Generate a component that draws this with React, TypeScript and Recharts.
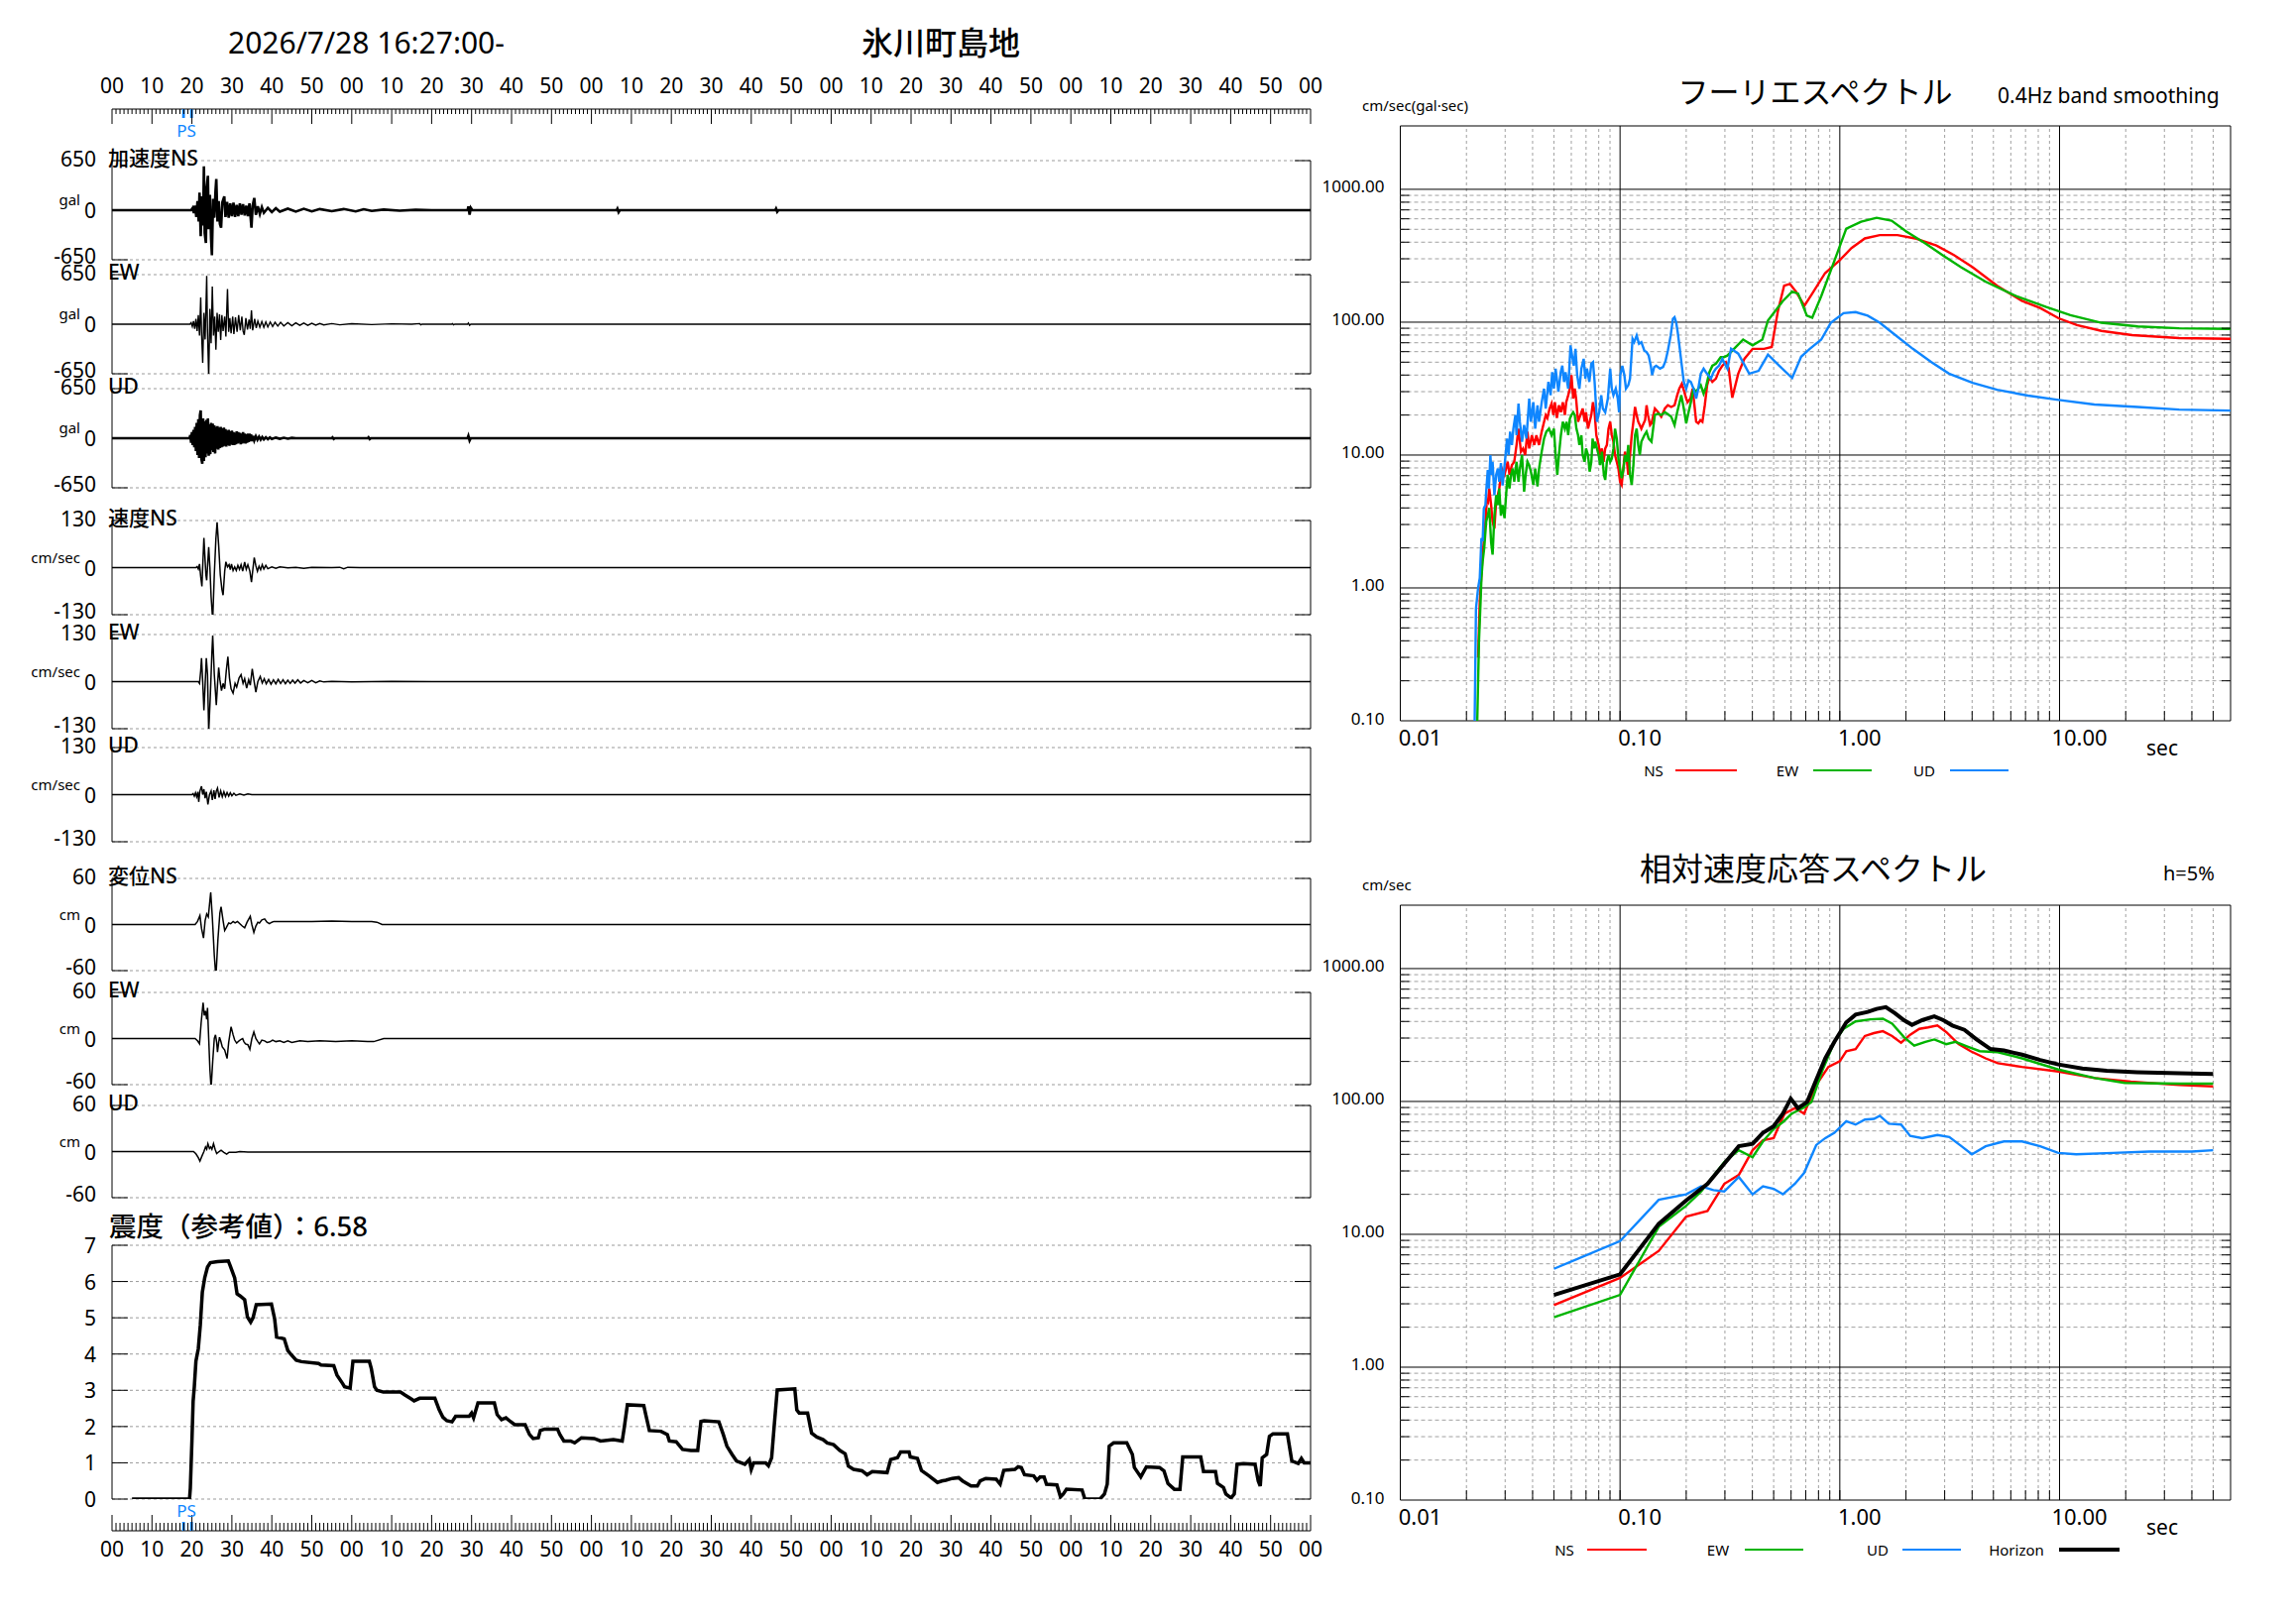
import React from 'react';
import { LineChart, Line, XAxis, YAxis, ReferenceLine, ReferenceArea } from 'recharts';

const FONT = "'Noto Sans', 'Noto Sans CJK JP', sans-serif";
const RED = '#ff0000';
const GREEN = '#00b400';
const BLUE = '#0f86ff';

type Pair = [number, number];

// ---- waveforms: [sec, value] ----
const accNS: Pair[] = [
  [0, 0], [19.8, 0], [20.2, 30], [20.5, -40], [20.8, 60], [21.1, -90], [21.4, 120], [21.7, -150], [21.9, 230],
  [22.2, -340], [22.5, 180], [22.8, -200], [23.0, 575], [23.2, -300], [23.5, -430], [23.7, 300], [24.0, 450],
  [24.2, -250], [24.5, 200], [24.8, -380], [25.0, -590], [25.3, 150], [25.6, -100], [25.9, 250], [26.1, 410],
  [26.4, -150], [26.7, 120], [27.0, -180], [27.3, -230], [27.6, 100], [28.1, 180], [28.4, -90], [28.8, 110],
  [29.2, -100], [29.6, 90], [30.0, -80], [30.4, 100], [30.8, -90], [31.2, 70], [31.6, -80], [32.0, 90],
  [32.4, -60], [32.8, 80], [33.2, -70], [33.6, 60], [34.0, -80], [34.4, 90], [34.9, -230], [35.2, 60],
  [35.6, 160], [36.0, -60], [36.5, 50], [37.0, -50], [37.5, 40], [38, -35], [39, 30], [40, -25], [41, 25],
  [42, -20], [44, 20], [46, -18], [48, 18], [50, -15], [52, 15], [55, -12], [58, 15], [61, -15], [63, 12],
  [65, -10], [68, 8], [72, -6], [76, 5], [80, 0], [89, 0], [89.2, 50], [89.5, -60], [89.8, 30], [90.2, 0],
  [126.3, 0], [126.5, 20], [126.8, -25], [127.1, 0], [166, 0], [166.2, 20], [166.5, -20], [166.8, 0], [300, 0],
];
const accEW: Pair[] = [
  [0, 0], [19.5, 0], [19.8, 20], [20.1, -30], [20.4, 40], [20.7, -60], [21.0, 70], [21.3, -90], [21.6, 120],
  [21.9, -150], [22.2, 350], [22.4, -100], [22.7, -507], [23.0, 150], [23.3, -200], [23.5, 200], [23.7, 632],
  [23.9, -100], [24.2, -700], [24.5, 200], [24.8, -250], [25.1, 494], [25.4, -150], [25.7, 100], [26.0, -335],
  [26.3, 150], [26.6, -100], [26.9, 130], [27.2, -206], [27.5, 120], [27.8, -90], [28.2, 100], [28.5, -163],
  [28.9, 460], [29.2, -100], [29.5, 80], [29.8, -120], [30.2, 100], [30.5, -130], [30.9, 90], [31.3, -100],
  [31.7, 120], [32.1, -80], [32.5, 100], [32.8, -90], [33.1, -140], [33.5, 80], [33.9, -70], [34.3, 60],
  [34.6, -60], [34.9, 180], [35.2, -80], [35.7, 70], [36.1, -50], [36.5, 40], [37, -40], [37.5, 35], [38, -40],
  [38.5, 30], [39, -35], [39.6, 30], [40.2, -30], [40.8, 25], [41.5, -25], [42.2, 25], [43, -22], [44, 20],
  [45, -20], [46, 18], [47, -15], [48, 15], [49, -15], [50, 12], [51, -12], [52, 10], [53, -10], [55, 8],
  [57, -8], [60, 6], [65, -5], [70, 5], [75, 0], [77, 8], [77.3, -8], [77.6, 0], [85, 0], [85.2, 8],
  [85.5, -8], [85.8, 0], [89, 0], [89.2, 15], [89.5, -15], [89.8, 0], [300, 0],
];
const accUD: Pair[] = [
  [0, 0], [19.4, 0], [19.6, 40], [19.8, -60], [20.0, 80], [20.2, -90], [20.4, 110], [20.6, -120], [20.8, 150],
  [21.0, -170], [21.2, 200], [21.4, -220], [21.6, 250], [21.8, -260], [22.0, 300], [22.2, 365], [22.4, -280],
  [22.6, -335], [22.8, 260], [23.0, -300], [23.2, 220], [23.4, -250], [23.6, 240], [23.8, -200], [24.0, 260],
  [24.2, -230], [24.4, 180], [24.6, -210], [24.8, 200], [25.0, -160], [25.2, 190], [25.4, -180], [25.6, 170],
  [25.8, -200], [26.0, 150], [26.2, -140], [26.4, 160], [26.6, -150], [26.8, 140], [27.0, -130], [27.2, 150],
  [27.4, -120], [27.6, 130], [27.8, -110], [28.0, 140], [28.2, -100], [28.4, 120], [28.6, -110], [28.8, 100],
  [29.0, -90], [29.2, 110], [29.4, -100], [29.6, 90], [29.8, -80], [30.0, 100], [30.2, -90], [30.4, 80],
  [30.6, -90], [30.8, 70], [31.0, -80], [31.2, 90], [31.4, -70], [31.6, 80], [31.8, -60], [32.0, 70],
  [32.2, -80], [32.4, 60], [32.6, -70], [32.8, 80], [33.0, -60], [33.2, 60], [33.4, -70], [33.6, 50],
  [33.8, -60], [34.0, 60], [34.2, -50], [34.4, 60], [34.6, -40], [34.8, 50], [35.0, -40], [35.3, 30],
  [35.6, -30], [36.0, 25], [36.4, -20], [36.8, 20], [37.2, -18], [37.6, 15], [38, -15], [38.5, 12], [39, -12],
  [39.5, 10], [40, -10], [41, 8], [42, -8], [43, 6], [44, -6], [45, 5], [46, 0], [55, 0], [55.2, 10],
  [55.5, -10], [55.8, 0], [64, 0], [64.2, 12], [64.5, -12], [64.8, 0], [89, 0], [89.2, 30], [89.5, -30],
  [89.8, 0], [300, 0],
];
const velNS: Pair[] = [
  [0, 0], [21.0, 0], [21.3, 3], [21.6, -4], [21.9, 10], [22.2, -25], [22.5, -52], [22.8, 30], [23.0, 82],
  [23.3, 20], [23.5, -20], [23.7, -35], [24.0, 20], [24.2, 57], [24.5, 0], [24.8, -80], [25.2, -145],
  [25.6, -20], [26.0, 80], [26.3, 125], [26.7, 60], [27.1, -20], [27.5, -60], [27.8, -76], [28.2, -10],
  [28.5, 16], [28.9, 2], [29.3, 8], [29.6, -6], [29.9, 10], [30.3, -8], [30.7, 2], [31.1, -8], [31.5, 6],
  [31.9, -5], [32.3, 8], [32.7, -10], [33.2, 15], [33.6, -5], [34.0, 8], [34.5, -10], [34.9, -40], [35.3, 0],
  [35.6, 28], [36.0, 5], [36.4, -10], [36.8, 4], [37.2, -6], [37.6, 8], [38.0, -4], [38.5, 6], [39, -3],
  [40, 2], [41, -2], [42, 2], [44, -1], [46, 1], [48, -2], [50, 1], [55, 0], [57, 1], [58, -3], [59, 1],
  [62, 0], [300, 0],
];
const velEW: Pair[] = [
  [0, 0], [21.6, 0], [21.9, -5], [22.2, 30], [22.4, 65], [22.7, 0], [23.0, -79], [23.3, -10], [23.6, 65],
  [23.9, 20], [24.2, -138], [24.6, -40], [25.0, 80], [25.2, 127], [25.6, 20], [26.1, -65], [26.4, -10],
  [26.7, 39], [27.0, 5], [27.4, -25], [27.8, -5], [28.2, -20], [28.6, 30], [29.0, 69], [29.4, 10], [29.8, -20],
  [30.3, -32], [30.8, -5], [31.2, -15], [31.8, 10], [32.3, 19], [32.8, -5], [33.2, 8], [33.7, -18], [34.2, 5],
  [34.6, -10], [35.1, 35], [35.5, 5], [36.0, -29], [36.5, 0], [37.1, 14], [37.6, -4], [38.1, 8], [38.6, -6],
  [39.2, 6], [39.8, -7], [40.4, 5], [41, -6], [41.6, 6], [42.2, -5], [42.8, 5], [43.4, -6], [44, 4],
  [44.6, -5], [45.2, 4], [45.8, -4], [46.5, 5], [47.2, -4], [48, 3], [49, -3], [50, 3], [51, -3], [52, 2],
  [53, -1], [55, 1], [60, -1], [70, 1], [80, 0], [300, 0],
];
const velUD: Pair[] = [
  [0, 0], [20.0, 0], [20.3, 3], [20.6, -4], [20.9, 5], [21.2, -6], [21.5, 8], [21.7, -20], [22.0, 10],
  [22.4, 23], [22.7, 0], [23.0, 15], [23.3, -10], [23.6, 8], [24.0, -27], [24.4, 0], [24.8, 10], [25.1, -15],
  [25.5, 12], [25.8, -12], [26.1, 10], [26.4, 18], [26.8, -8], [27.2, 10], [27.6, -6], [28, 8], [28.4, -5],
  [28.8, 6], [29.2, -4], [29.6, 5], [30.0, -3], [30.5, 4], [31, -2], [32, 2], [33, -1], [34, 2], [35, 0],
  [300, 0],
];
const disNS: Pair[] = [
  [0, 0], [20.8, 0], [21.4, 4], [22.0, 11.6], [22.4, -5], [22.9, -17.6], [23.3, 5], [23.7, 13.7], [24.1, 10],
  [24.7, 42], [25.1, 10], [25.6, -40], [26.0, -69], [26.5, -20], [27.0, 15], [27.3, 23], [27.8, 5],
  [28.2, -7.7], [28.6, -4], [29.2, 2], [29.7, 1], [30.3, 4], [30.8, 2], [31.4, 4], [32, 1], [32.6, -2],
  [33.2, -4.3], [33.8, 3], [34.6, 10.7], [35.0, 0], [35.5, -10.3], [36.0, -2], [36.5, 3], [36.9, 2], [37.5, 6],
  [38.2, 7.3], [38.8, 3], [39.4, 1], [40, 3], [40.5, 4], [45, 4], [50, 4], [55, 4.5], [60, 4], [65, 4],
  [66.3, 3], [67.6, 0], [300, 0],
];
const disEW: Pair[] = [
  [0, 0], [20.8, 0], [21.4, -3], [21.9, -6.9], [22.3, 20], [22.8, 46.7], [23.1, 30], [23.4, 36], [23.7, 25],
  [23.9, 40], [24.2, 0], [24.5, -40], [24.8, -64.7], [25.2, -30], [25.6, 0], [25.9, 4.7], [26.2, -5],
  [26.4, -17.6], [26.7, -5], [26.9, 1.7], [27.2, -3], [27.6, -11], [28.2, -15], [28.8, -26], [29.2, -5],
  [29.8, 15.4], [30.3, 5], [30.7, -2], [31.2, -6], [31.8, -3], [32.3, -1], [32.7, 0], [33.0, -4], [33.4, -6.9],
  [34.0, -8], [34.5, -14], [35.0, 0], [35.5, 8.6], [36.0, 0], [36.5, -4], [36.9, -6.9], [37.5, -2], [38.2, -3],
  [38.8, -5], [39.5, -4.3], [40.2, -2], [41, -4], [42, -3], [43, -5], [44, -3], [45, -5], [47, -3], [49, -4],
  [52, -3], [56, -4], [60, -3], [64, -4], [65.5, -4], [68, 0], [300, 0],
];
const disUD: Pair[] = [
  [0, 0], [20.4, 0], [21.0, -3], [21.6, -8], [22.0, -12.4], [22.5, -6], [23.0, 0], [23.4, 6], [23.7, 3],
  [24.0, 10.3], [24.4, 4], [24.7, 6], [25.0, 3], [25.4, 10.3], [25.8, 3], [26.2, -2.6], [26.8, 0], [27.3, 1.7],
  [28.0, -1], [28.7, -3.4], [29.3, -1], [30, -0.9], [31, -1], [32, 0], [34, -0.5], [300, 0],
];

// ---- seismic intensity (参考値) over time ----
const intensity: Pair[] = [
  [5, 0], [19.4, 0], [19.6, 0.3], [20.0, 1.6], [20.3, 2.7], [20.6, 3.1], [21.0, 3.8], [21.6, 4.15], [22.1, 4.8],
  [22.6, 5.7], [23.2, 6.1], [23.9, 6.4], [24.6, 6.52], [26.4, 6.55], [29.1, 6.57], [29.6, 6.43], [30.7, 6.1],
  [31.3, 5.66], [32.1, 5.6], [33.2, 5.5], [33.9, 5.02], [34.7, 4.88], [35.3, 5.0], [36.1, 5.36], [39.9, 5.38],
  [40.7, 4.97], [41.2, 4.47], [43.1, 4.42], [44.0, 4.1], [44.7, 4.0], [46.1, 3.83], [47.4, 3.79], [51.7, 3.74],
  [52.3, 3.7], [55.5, 3.68], [56.3, 3.42], [57.7, 3.19], [58.2, 3.1], [59.6, 3.06], [60.3, 3.8], [64.4, 3.8],
  [64.9, 3.6], [65.7, 3.1], [66.3, 3.0], [67.9, 2.95], [72.2, 2.95], [73.3, 2.87], [74.9, 2.76], [75.6, 2.71],
  [77.0, 2.78], [80.8, 2.78], [81.9, 2.46], [82.8, 2.26], [83.8, 2.16], [85.1, 2.13], [86.0, 2.28], [89.4, 2.28],
  [90.0, 2.37], [90.5, 2.24], [91.6, 2.65], [95.7, 2.65], [96.4, 2.33], [97.5, 2.19], [98.6, 2.24], [99.7, 2.14],
  [100.8, 2.05], [103.4, 2.05], [104.5, 1.78], [105.4, 1.67], [106.7, 1.69], [107.2, 1.89], [108.3, 1.93],
  [111.5, 1.93], [112.1, 1.78], [113.1, 1.6], [114.8, 1.6], [115.8, 1.55], [117.5, 1.69], [120.7, 1.67],
  [122.3, 1.6], [125.5, 1.64], [127.7, 1.6], [128.2, 1.96], [129.0, 2.6], [133.1, 2.58], [133.6, 2.33],
  [134.5, 1.89], [137.4, 1.87], [139.0, 1.78], [139.5, 1.6], [141.2, 1.58], [142.8, 1.37], [144.9, 1.34],
  [146.6, 1.34], [147.4, 2.14], [148.2, 2.16], [151.9, 2.13], [153.0, 1.78], [153.9, 1.46], [155.2, 1.23],
  [156.3, 1.05], [158.4, 0.96], [159.5, 1.09], [160.0, 0.82], [160.6, 1.0], [163.6, 1.0], [164.3, 0.92],
  [165.1, 1.14], [165.7, 1.96], [166.5, 3.01], [170.9, 3.04], [171.4, 2.46], [172.0, 2.37], [174.1, 2.37],
  [175.1, 1.82], [176.4, 1.71], [178.0, 1.64], [179.0, 1.55], [180.6, 1.5], [182.2, 1.34], [183.5, 1.25],
  [184.3, 0.91], [185.6, 0.82], [187.7, 0.78], [189.0, 0.67], [190.3, 0.76], [194.0, 0.73], [194.9, 1.09],
  [196.6, 1.14], [197.4, 1.3], [199.5, 1.3], [199.8, 1.16], [201.6, 1.12], [202.6, 0.79], [204.5, 0.64],
  [206.6, 0.46], [207.7, 0.5], [208.7, 0.52], [210.3, 0.57], [211.9, 0.59], [212.9, 0.5], [215.0, 0.36],
  [216.6, 0.36], [217.3, 0.5], [218.7, 0.57], [221.3, 0.55], [222.3, 0.41], [223.2, 0.79], [226.0, 0.82],
  [226.8, 0.89], [227.6, 0.87], [228.4, 0.67], [230.7, 0.64], [231.5, 0.52], [232.3, 0.61], [233.3, 0.61],
  [233.9, 0.41], [236.5, 0.39], [237.4, 0.06], [238.1, 0.14], [238.9, 0.27], [242.8, 0.25], [243.5, 0],
  [247.3, 0], [248.4, 0.14], [249.1, 0.41], [249.6, 1.46], [250.7, 1.55], [254.0, 1.55], [255.4, 1.23],
  [255.9, 0.87], [257.5, 0.61], [258.9, 0.89], [262.2, 0.87], [263.3, 0.78], [264.3, 0.43], [265.9, 0.27],
  [267.3, 0.27], [268.0, 1.16], [272.5, 1.16], [273.2, 0.76], [276.2, 0.76], [276.7, 0.43], [278.2, 0.32],
  [278.8, 0.14], [280.1, 0.03], [280.9, 0.14], [281.6, 0.96], [283.2, 0.98], [286.1, 0.96], [286.9, 0.5],
  [287.4, 0.36], [287.9, 1.14], [289.0, 1.23], [289.7, 1.73], [290.6, 1.8], [294.2, 1.8], [295.3, 1.05],
  [296.9, 0.98], [297.7, 1.12], [298.4, 1.0], [300, 1.0],
];
const psTimes = [17.9, 19.9];

// ---- Fourier spectra: [period sec, cm/sec] ----
const fourierNS: Pair[] = [
  [0.0226, 0.3], [0.023, 0.8], [0.0234, 1.26], [0.0237, 1.78], [0.0244, 3.16], [0.0248, 4.7], [0.0251, 4.5],
  [0.0254, 5.6], [0.0259, 4.2], [0.0263, 3.16], [0.0268, 2.8], [0.0273, 4.5], [0.0278, 5.0], [0.0282, 5.6],
  [0.029, 7.9], [0.0298, 7.1], [0.0308, 8.9], [0.0314, 7.1], [0.0322, 8.4], [0.033, 8.9], [0.0338, 11.9],
  [0.0345, 15.8], [0.0354, 10.6], [0.0362, 11.2], [0.037, 10], [0.0379, 15], [0.0386, 11.2], [0.0397, 14.1],
  [0.0407, 11.9], [0.0416, 14.1], [0.0428, 11.9], [0.044, 15], [0.0451, 17.8], [0.0459, 20], [0.0467, 19],
  [0.0478, 22.4], [0.0488, 24.4], [0.0497, 20], [0.0505, 25], [0.0516, 19], [0.0527, 23.7], [0.0538, 21],
  [0.0549, 25], [0.0561, 20], [0.0569, 25], [0.0581, 28.2], [0.0591, 31.6], [0.0601, 40], [0.0612, 26.6],
  [0.0622, 31.6], [0.0631, 26.6], [0.0644, 17.8], [0.066, 20], [0.0676, 22.4], [0.069, 17.8], [0.07, 21],
  [0.0715, 15.8], [0.0727, 17.8], [0.074, 20], [0.0753, 25], [0.0766, 21], [0.078, 14.1], [0.0799, 11.9],
  [0.0812, 10], [0.0827, 11.2], [0.0841, 8.9], [0.0856, 11.2], [0.0871, 11.9], [0.0886, 15.8], [0.0902, 17.8],
  [0.0917, 14.1], [0.0933, 12.6], [0.0949, 10], [0.0966, 8.9], [0.0983, 7.9], [0.1, 6.3], [0.1017, 5.96],
  [0.1035, 7.9], [0.1053, 10.6], [0.1072, 9.4], [0.109, 7.1], [0.111, 10], [0.113, 14.1], [0.115, 17.8],
  [0.117, 23], [0.119, 20], [0.121, 17.8], [0.123, 16.8], [0.125, 15.8], [0.127, 16.8], [0.13, 18.3],
  [0.132, 23.7], [0.134, 20], [0.137, 16.8], [0.139, 17.3], [0.144, 22.4], [0.149, 21], [0.154, 19.4],
  [0.16, 22.4], [0.165, 23.7], [0.171, 23], [0.177, 23.7], [0.182, 28.2], [0.186, 31.6], [0.191, 34.4],
  [0.196, 29.9], [0.2, 26.6], [0.203, 25], [0.209, 26.6], [0.214, 31.6], [0.218, 23.7], [0.222, 17.8],
  [0.227, 17.3], [0.232, 18.3], [0.237, 17.8], [0.243, 23.7], [0.249, 33.5], [0.255, 38.6], [0.263, 35.5],
  [0.273, 37.6], [0.282, 43], [0.292, 47], [0.303, 50], [0.312, 45], [0.324, 27], [0.345, 41], [0.368, 53],
  [0.401, 63], [0.452, 63], [0.49, 65], [0.523, 122], [0.558, 188], [0.593, 194], [0.632, 170], [0.69, 133],
  [0.749, 164], [0.857, 234], [1.0, 293], [1.13, 361], [1.3, 427], [1.52, 452], [1.83, 452], [2.2, 427],
  [2.75, 377], [3.32, 319], [4.02, 259], [5.2, 188], [6.73, 145], [8.16, 128], [9.9, 107], [12, 95],
  [15.5, 86], [21.4, 80], [35, 76], [60, 75],
];
const fourierEW: Pair[] = [
  [0.0224, 0.1], [0.0228, 0.39], [0.0232, 0.8], [0.0234, 1.19], [0.0237, 1.58], [0.0241, 2.0], [0.0246, 3.16],
  [0.025, 3.5], [0.0254, 4.0], [0.0259, 2.2], [0.0263, 1.78], [0.0268, 3.5], [0.0273, 5.0], [0.0278, 4.2],
  [0.0282, 5.6], [0.0287, 3.5], [0.0292, 4.2], [0.0298, 3.35], [0.0303, 5.0], [0.0308, 7.1], [0.0314, 5.6],
  [0.0319, 7.1], [0.0325, 7.9], [0.033, 6.3], [0.0338, 8.9], [0.0345, 6.3], [0.035, 7.9], [0.0358, 10],
  [0.0366, 5.3], [0.0372, 7.1], [0.0379, 8.9], [0.0386, 8.4], [0.0393, 7.5], [0.0403, 5.96], [0.0411, 7.9],
  [0.0421, 5.8], [0.0428, 7.9], [0.044, 10.6], [0.0451, 13.3], [0.0462, 15], [0.0475, 15.8], [0.0488, 14.1],
  [0.05, 15.8], [0.0509, 10], [0.0518, 7.1], [0.0527, 10], [0.0538, 14.1], [0.0549, 17.8], [0.0561, 15.8],
  [0.0571, 17.8], [0.0581, 14.1], [0.0591, 18.8], [0.0601, 20], [0.0612, 21], [0.0622, 20], [0.0633, 15.8],
  [0.0644, 14.1], [0.0653, 11.9], [0.0667, 14.1], [0.0676, 10], [0.069, 8.9], [0.07, 11.2], [0.0715, 10],
  [0.0727, 7.5], [0.074, 8.9], [0.075, 13.3], [0.0761, 11.2], [0.0771, 12.6], [0.0785, 11.2], [0.0799, 10],
  [0.0812, 8.4], [0.0827, 10.6], [0.0844, 7.1], [0.0856, 6.5], [0.0871, 8.9], [0.0886, 10], [0.0902, 8.9],
  [0.0917, 9.4], [0.0933, 11.2], [0.0949, 15.8], [0.0966, 13.3], [0.0983, 9.4], [0.1, 7.9], [0.1017, 6.7],
  [0.1035, 7.7], [0.1053, 10], [0.1072, 8.9], [0.109, 11.9], [0.111, 7.1], [0.113, 5.96], [0.115, 8.4],
  [0.117, 14.1], [0.119, 15.8], [0.121, 11.9], [0.123, 10], [0.125, 12.6], [0.129, 14.1], [0.132, 15],
  [0.135, 13.3], [0.139, 12.6], [0.144, 20], [0.149, 20.5], [0.154, 20], [0.16, 21], [0.165, 20.3],
  [0.171, 19.4], [0.177, 16.8], [0.182, 21], [0.186, 24.4], [0.19, 28.2], [0.195, 22.4], [0.2, 17.3],
  [0.205, 21], [0.21, 25], [0.216, 31.6], [0.222, 29.9], [0.227, 31.6], [0.233, 33.5], [0.24, 29],
  [0.246, 32.5], [0.255, 42], [0.263, 47], [0.273, 48.7], [0.287, 54.6], [0.297, 54.6], [0.308, 56],
  [0.33, 63], [0.363, 74], [0.401, 67], [0.444, 74], [0.471, 103], [0.5, 117], [0.55, 144], [0.607, 170],
  [0.646, 164], [0.708, 112], [0.749, 108], [0.823, 157], [0.939, 282], [1.07, 505], [1.25, 571], [1.47, 611],
  [1.72, 580], [2.0, 484], [2.44, 393], [2.94, 319], [3.56, 259], [4.6, 202], [6.34, 157], [8.7, 130],
  [11.2, 113], [15.5, 99], [22.7, 93], [35, 90], [60, 89],
];
const fourierUD: Pair[] = [
  [0.0218, 0.1], [0.0221, 0.7], [0.0226, 1.0], [0.023, 1.19], [0.0234, 2.37], [0.0237, 2.24], [0.024, 3.98],
  [0.0244, 4.2], [0.0246, 5.3], [0.025, 7.7], [0.0253, 5.6], [0.0257, 10], [0.026, 7.1], [0.0263, 8.9],
  [0.0268, 5.0], [0.0273, 7.1], [0.0278, 7.9], [0.0282, 6.3], [0.0287, 8.7], [0.0292, 5.9], [0.0301, 9.8],
  [0.0306, 13.3], [0.0311, 10], [0.0316, 15], [0.0322, 11.9], [0.0327, 15.8], [0.0334, 20], [0.0338, 14.1],
  [0.0345, 24.4], [0.035, 17.8], [0.0358, 12.6], [0.0366, 16.8], [0.0375, 13.3], [0.0386, 26.6],
  [0.0393, 17.8], [0.0403, 25], [0.0411, 15.8], [0.0421, 23.7], [0.0428, 17.8], [0.044, 25], [0.0451, 31.6],
  [0.0459, 22.4], [0.0472, 35.5], [0.0483, 28.2], [0.0491, 42], [0.05, 31.6], [0.0509, 44.7], [0.0524, 29.9],
  [0.0537, 42], [0.0546, 47], [0.0556, 35.5], [0.0565, 42], [0.0581, 31.6], [0.0595, 66.8], [0.0605, 56],
  [0.0616, 47], [0.0627, 63], [0.0638, 40], [0.0653, 31.6], [0.0667, 44.7], [0.0683, 53], [0.0695, 37.6],
  [0.0707, 44.7], [0.0725, 35.5], [0.074, 48.7], [0.0753, 50], [0.0766, 35.5], [0.0785, 17.8], [0.0804, 21],
  [0.0821, 28.2], [0.0835, 22.4], [0.0856, 21], [0.088, 26.6], [0.0902, 44.7], [0.0917, 31.6], [0.0933, 28.2],
  [0.0956, 31.6], [0.0976, 26.6], [0.099, 21], [0.1003, 40], [0.1024, 47], [0.1046, 40], [0.1064, 31.6],
  [0.109, 33.5], [0.111, 37.6], [0.114, 75], [0.116, 70.8], [0.119, 79.4], [0.122, 68.8], [0.125, 70.8],
  [0.129, 61], [0.132, 59.6], [0.135, 56], [0.138, 47], [0.14, 40], [0.143, 46], [0.146, 47], [0.152, 44.7],
  [0.157, 46], [0.161, 51], [0.165, 61], [0.17, 79.4], [0.174, 106], [0.177, 109], [0.18, 100], [0.183, 84],
  [0.187, 63], [0.191, 47], [0.195, 35.5], [0.2, 31.6], [0.205, 36.5], [0.21, 35.5], [0.216, 31.6],
  [0.222, 26.6], [0.227, 31.6], [0.233, 41], [0.24, 44.7], [0.246, 42], [0.252, 40], [0.259, 37.6],
  [0.266, 42], [0.273, 44.7], [0.282, 47], [0.292, 53], [0.303, 47], [0.308, 44.7], [0.32, 63], [0.345, 58],
  [0.387, 41], [0.427, 43], [0.471, 57], [0.53, 47], [0.607, 38], [0.667, 55], [0.73, 63], [0.823, 74],
  [0.91, 99], [1.04, 117], [1.18, 119], [1.34, 112], [1.52, 99], [1.79, 80], [2.15, 63], [2.61, 50],
  [3.14, 41], [4.02, 35], [5.2, 31], [7.18, 28], [9.9, 26], [14.4, 24], [22.7, 23], [35, 22], [60, 21.6],
];

// ---- relative velocity response spectra h=5% ----
const respNS: Pair[] = [
  [0.05, 2.93], [0.1, 4.7], [0.15, 7.5], [0.2, 13.6], [0.25, 15], [0.298, 24], [0.347, 28], [0.401, 43],
  [0.447, 51], [0.5, 53], [0.527, 65], [0.561, 81], [0.625, 89], [0.688, 81], [0.781, 133], [0.887, 182],
  [1.0, 201], [1.07, 239], [1.18, 248], [1.3, 311], [1.43, 327], [1.57, 338], [1.73, 311], [1.9, 277],
  [2.09, 318], [2.3, 352], [2.52, 361], [2.78, 373], [3.05, 333], [3.47, 270], [3.94, 239], [4.61, 211],
  [5.24, 194], [6.75, 182], [9.87, 168], [14.5, 150], [21.1, 141], [35.1, 133], [50, 130],
];
const respEW: Pair[] = [
  [0.05, 2.38], [0.1, 3.5], [0.15, 11.4], [0.2, 16.4], [0.234, 21], [0.298, 35], [0.347, 43], [0.401, 38],
  [0.447, 50], [0.5, 62], [0.551, 70], [0.605, 81], [0.688, 90], [0.743, 99], [0.832, 170], [0.945, 281],
  [1.04, 352], [1.18, 400], [1.38, 415], [1.57, 420], [1.73, 386], [1.96, 305], [2.18, 263], [2.45, 281],
  [2.69, 293], [3.05, 270], [3.36, 281], [3.81, 259], [4.33, 239], [5.24, 235], [6.75, 211], [9.87, 174],
  [14.5, 150], [19.8, 138], [35.1, 136], [50, 136],
];
const respUD: Pair[] = [
  [0.05, 5.5], [0.1, 8.9], [0.15, 18.2], [0.2, 20], [0.234, 23], [0.266, 21.5], [0.298, 21], [0.347, 27],
  [0.401, 20], [0.447, 23], [0.5, 22], [0.551, 20], [0.625, 24], [0.688, 29], [0.781, 47], [0.859, 53],
  [0.945, 58], [1.07, 71], [1.18, 67], [1.3, 73], [1.43, 74], [1.52, 78], [1.67, 68], [1.9, 67], [2.09, 55],
  [2.37, 53], [2.78, 56], [3.15, 54], [3.58, 46], [3.99, 40], [4.61, 46], [5.58, 50], [6.75, 50], [8.16, 46],
  [9.87, 41], [11.9, 40], [17.5, 41], [25.6, 42], [39.9, 42], [50, 43],
];
const respH: Pair[] = [
  [0.05, 3.5], [0.1, 5.0], [0.15, 12], [0.2, 18], [0.25, 24], [0.298, 34], [0.347, 46], [0.401, 48],
  [0.447, 58], [0.5, 65], [0.551, 81], [0.598, 105], [0.645, 89], [0.71, 99], [0.781, 145], [0.859, 211],
  [0.945, 281], [1.07, 393], [1.18, 450], [1.34, 472], [1.47, 497], [1.62, 512], [1.78, 462], [1.96, 409],
  [2.13, 377], [2.37, 409], [2.69, 437], [2.96, 409], [3.25, 373], [3.69, 346], [4.19, 293], [4.85, 248],
  [5.58, 242], [6.75, 225], [8.16, 205], [9.87, 190], [12.7, 177], [16.4, 170], [22.5, 166], [35.1, 163],
  [50, 161],
];

// ---- axis ticks ----
const secTicks = Array.from({ length: 301 }, (_, i) => i);
const rulerTicks = [...secTicks, ...psTimes].sort((a, b) => a - b);
const xMajor = [0.01, 0.1, 1, 10];
const xMinor = [0.02, 0.03, 0.04, 0.05, 0.06, 0.07, 0.08, 0.09, 0.2, 0.3, 0.4, 0.5, 0.6, 0.7, 0.8, 0.9,
  2, 3, 4, 5, 6, 7, 8, 9, 20, 30, 40, 50];
const yMajor = [0.1, 1, 10, 100, 1000];
const yMinor = [0.2, 0.3, 0.4, 0.5, 0.6, 0.7, 0.8, 0.9, 2, 3, 4, 5, 6, 7, 8, 9, 20, 30, 40, 50, 60, 70, 80, 90,
  200, 300, 400, 500, 600, 700, 800, 900];
const intTicks = [0, 1, 2, 3, 4, 5, 6, 7];

const pts = (a: Pair[]) => a.map(([t, v]) => ({ t, v }));

const Txt = ({ x, y, size, children, anchor = 'start', color = '#000', weight = 400 }: any) => {
  const tx = anchor === 'middle' ? '-50%' : anchor === 'end' ? '-100%' : '0';
  return (
    <div style={{
      position: 'absolute', left: x, top: y, fontSize: size, color, lineHeight: 1, whiteSpace: 'nowrap',
      fontWeight: weight, transform: `translate(${tx}, -50%)`,
    }}>{children}</div>
  );
};

const PL = 113;   // plot left of time charts
const PR = 1322;  // plot right of time charts
const CW = 1340;

const PanelTick = ({ x, y, payload }: any) => {
  const v = payload.value;
  const dy = v > 0 ? -2 : v < 0 ? -4 : 0;
  return (
    <g>
      {v !== 0 && <line x1={x} x2={x + 16} y1={y} y2={y} stroke="#000" />}
      <text x={x - 16} y={y + dy} textAnchor="end" dominantBaseline="central" fontSize={21} fill="#000" fontFamily={FONT}>{v}</text>
    </g>
  );
};

const RightTick = ({ x, y }: any) => <line x1={x - 16} x2={x} y1={y} y2={y} stroke="#000" />;

function Trace({ data, max, top, h, sw }: any) {
  return (
    <div style={{ position: 'absolute', left: 0, top: top - 20 }}>
      <LineChart width={CW} height={h + 40} data={pts(data)} margin={{ top: 20, bottom: 20, left: PL - 60, right: CW - PR - 10 }}>
        <XAxis dataKey="t" type="number" domain={[0, 300]} allowDataOverflow hide />
        <YAxis yAxisId="l" type="number" domain={[-max, max]} ticks={[-max, 0, max]} interval={0} allowDataOverflow width={60}
          axisLine={{ stroke: '#000' }} tickLine={false} tickSize={0} tickMargin={0} tick={(p: any) => <PanelTick {...p} />} />
        <YAxis yAxisId="r" orientation="right" type="number" domain={[-max, max]} ticks={[-max, max]} interval={0} allowDataOverflow width={10}
          axisLine={{ stroke: '#000' }} tickLine={false} tickSize={0} tickMargin={0} tick={(p: any) => <RightTick {...p} />} />
        <ReferenceLine yAxisId="l" y={max} stroke="#9a9a9a" strokeDasharray="3 3" />
        <ReferenceLine yAxisId="l" y={-max} stroke="#9a9a9a" strokeDasharray="3 3" />
        <Line yAxisId="l" dataKey="v" type="linear" stroke="#000" strokeWidth={sw} dot={false} activeDot={false} isAnimationActive={false} />
      </LineChart>
    </div>
  );
}

const secLabel = (v: number) => String(v % 60).padStart(2, '0');

function Ruler({ top, axisY, dir }: any) {
  // dir = 1: ticks hang down from the line, labels above; dir = -1: ticks rise, labels below
  const H = 80;
  const plotTop = dir === 1 ? axisY : axisY - 9;
  const plotBottom = dir === 1 ? axisY + 9 : axisY;
  const tick = ({ x, y, payload }: any) => {
    const v = payload.value;
    if (psTimes.includes(v)) {
      return <line x1={x} x2={x} y1={y} y2={y + dir * 9} stroke={BLUE} strokeWidth={2.8} />;
    }
    const major = v % 10 === 0;
    const len = dir === 1 ? (major ? 15 : 5) : (major ? 16 : 8);
    return (
      <g>
        <line x1={x} x2={x} y1={y} y2={y + dir * len} stroke="#000" />
        {major && (
          <text x={x} y={y - dir * (dir === 1 ? 24 : 18)} textAnchor="middle" dominantBaseline="central" fontSize={21} fill="#000" fontFamily={FONT}>
            {secLabel(v)}
          </text>
        )}
      </g>
    );
  };
  return (
    <div style={{ position: 'absolute', left: 0, top }}>
      <LineChart width={CW} height={H} data={[{ t: 0, v: 0 }, { t: 300, v: 0 }]}
        margin={dir === 1
          ? { top: plotTop - top - 20, bottom: top + H - plotBottom, left: PL, right: CW - PR }
          : { top: plotTop - top, bottom: top + H - plotBottom - 20, left: PL, right: CW - PR }}>
        <XAxis dataKey="t" type="number" domain={[0, 300]} allowDataOverflow orientation={dir === 1 ? 'top' : 'bottom'} height={20}
          ticks={rulerTicks} interval={0} axisLine={{ stroke: '#000' }} tickLine={false} tickSize={0} tickMargin={0} tick={tick} />
        <YAxis type="number" domain={[0, 1]} hide />
      </LineChart>
    </div>
  );
}

const IntTick = ({ x, y, payload }: any) => (
  <g>
    <line x1={x} x2={x + 16} y1={y} y2={y} stroke="#000" />
    <text x={x - 16} y={y} textAnchor="end" dominantBaseline="central" fontSize={21} fill="#000" fontFamily={FONT}>{payload.value}</text>
  </g>
);

function IntensityChart() {
  return (
    <div style={{ position: 'absolute', left: 0, top: 1230 }}>
      <LineChart width={CW} height={300} data={pts(intensity)} margin={{ top: 26, bottom: 18, left: PL - 60, right: CW - PR - 10 }}>
        <XAxis dataKey="t" type="number" domain={[0, 300]} allowDataOverflow hide />
        <YAxis yAxisId="l" type="number" domain={[0, 7]} ticks={intTicks} interval={0} allowDataOverflow width={60}
          axisLine={{ stroke: '#000' }} tickLine={false} tickSize={0} tickMargin={0} tick={(p: any) => <IntTick {...p} />} />
        <YAxis yAxisId="r" orientation="right" type="number" domain={[0, 7]} ticks={intTicks} interval={0} allowDataOverflow width={10}
          axisLine={{ stroke: '#000' }} tickLine={false} tickSize={0} tickMargin={0} tick={(p: any) => <RightTick {...p} />} />
        {intTicks.map((v) => (
          <ReferenceLine key={v} yAxisId="l" y={v} stroke="#9a9a9a" strokeDasharray="3 3" />
        ))}
        <Line yAxisId="l" dataKey="v" type="linear" stroke="#000" strokeWidth={3.5} dot={false} activeDot={false} isAnimationActive={false} />
      </LineChart>
    </div>
  );
}

const fmt2 = (v: number) => v.toFixed(2);

const SpecXTick = ({ x, y, payload }: any) => {
  const v = payload.value;
  const major = xMajor.includes(v);
  return (
    <g>
      <line x1={x} x2={x} y1={y} y2={y - 10} stroke="#000" />
      {major && (
        <text x={x + 20} y={y + 16} textAnchor="middle" dominantBaseline="central" fontSize={22} fill="#000" fontFamily={FONT}>{fmt2(v)}</text>
      )}
    </g>
  );
};

const SpecYTick = ({ x, y, payload }: any) => {
  const v = payload.value;
  const major = yMajor.includes(v);
  return (
    <g>
      {!major && <line x1={x} x2={x + 9} y1={y} y2={y} stroke="#000" />}
      {major && (
        <text x={x - 16} y={y - 3} textAnchor="end" dominantBaseline="central" fontSize={17} fill="#000" fontFamily={FONT}>{fmt2(v)}</text>
      )}
    </g>
  );
};

const SpecYRightTick = ({ x, y, payload }: any) =>
  yMajor.includes(payload.value) ? <g /> : <line x1={x - 9} x2={x} y1={y} y2={y} stroke="#000" />;

function Spectrum({ plotTop, series }: any) {
  const left = 1320;
  const top = plotTop - 17;
  const plotL = 1412.5;
  const plotR = 2250;
  return (
    <div style={{ position: 'absolute', left, top }}>
      <LineChart width={980} height={677} margin={{ top: 17, bottom: 20, left: plotL - left - 20, right: left + 980 - plotR - 10 }}>
        <XAxis dataKey="t" type="number" scale="log" domain={[0.01, 60]} allowDataOverflow height={40}
          ticks={[...xMajor, ...xMinor].sort((a, b) => a - b)} interval={0} axisLine={false} tickLine={false} tickSize={0} tickMargin={0}
          tick={(p: any) => <SpecXTick {...p} />} />
        <YAxis yAxisId="l" type="number" scale="log" domain={[0.1, 3000]} allowDataOverflow width={20}
          ticks={[...yMajor, ...yMinor].sort((a, b) => a - b)} interval={0} axisLine={false} tickLine={false} tickSize={0} tickMargin={0}
          tick={(p: any) => <SpecYTick {...p} />} />
        <YAxis yAxisId="r" orientation="right" type="number" scale="log" domain={[0.1, 3000]} allowDataOverflow width={10}
          ticks={[...yMajor, ...yMinor].sort((a, b) => a - b)} interval={0} axisLine={false} tickLine={false} tickSize={0} tickMargin={0}
          tick={(p: any) => <SpecYRightTick {...p} />} />
        {xMinor.map((v) => (
          <ReferenceLine key={'vx' + v} yAxisId="l" x={v} stroke="#a0a0a0" strokeDasharray="3 3" />
        ))}
        {yMinor.map((v) => (
          <ReferenceLine key={'vy' + v} yAxisId="l" y={v} stroke="#a0a0a0" strokeDasharray="4 3" />
        ))}
        {xMajor.slice(1).map((v) => (
          <ReferenceLine key={'mx' + v} yAxisId="l" x={v} stroke="#000" />
        ))}
        {yMajor.slice(1).map((v) => (
          <ReferenceLine key={'my' + v} yAxisId="l" y={v} stroke="#000" />
        ))}
        <ReferenceArea yAxisId="l" x1={0.01} x2={60} y1={0.1} y2={3000} fill="none" stroke="#000" strokeOpacity={1} fillOpacity={0} />
        {series.map((s: any) => (
          <Line key={s.name} yAxisId="l" data={pts(s.data)} dataKey="v" type="linear" stroke={s.color} strokeWidth={s.w}
            dot={false} activeDot={false} isAnimationActive={false} />
        ))}
      </LineChart>
    </div>
  );
}

const LegendItem = ({ x, lx1, lx2, y, label, color, w }: any) => (
  <>
    <Txt x={x} y={y} size={15} anchor="middle">{label}</Txt>
    <div style={{ position: 'absolute', left: lx1, top: y - w / 2, width: lx2 - lx1, height: w, background: color }} />
  </>
);

const traceGroups = [
  { names: ['加速度NS', 'EW', 'UD'], data: [accNS, accEW, accUD], tops: [162, 277, 392], h: 100, max: 650, unit: 'gal', sw: [2.6, 1.4, 2.6] },
  { names: ['速度NS', 'EW', 'UD'], data: [velNS, velEW, velUD], tops: [525, 640, 754], h: 95, max: 130, unit: 'cm/sec', sw: [1.5, 1.5, 1.5] },
  { names: ['変位NS', 'EW', 'UD'], data: [disNS, disEW, disUD], tops: [886, 1001, 1115], h: 93, max: 60, unit: 'cm', sw: [1.5, 1.5, 1.5] },
];

export default function App() {
  return (
    <div style={{ position: 'absolute', left: 0, top: 0, width: 2316, height: 1637, background: '#fff', fontFamily: FONT, color: '#000', overflow: 'hidden' }}>
      <Txt x={230} y={43} size={30}>2026/7/28 16:27:00-</Txt>
      <Txt x={949} y={43} size={32} anchor="middle" weight={500}>氷川町島地</Txt>

      <Ruler top={60} axisY={110} dir={1} />
      <Txt x={188} y={131} size={17} anchor="middle" color={BLUE}>PS</Txt>

      {traceGroups.map((g) =>
        g.tops.map((top, i) => (
          <React.Fragment key={g.names[0] + i}>
            <Trace data={g.data[i]} max={g.max} top={top} h={g.h} sw={g.sw[i]} />
            <Txt x={109} y={top - 3} size={21} weight={500}>{g.names[i]}</Txt>
            <Txt x={81} y={top + g.h / 2 - 11} size={15} anchor="end">{g.unit}</Txt>
          </React.Fragment>
        )),
      )}

      <Txt x={110} y={1237} size={27.5} weight={500}>震度（参考値）：6.58</Txt>
      <IntensityChart />
      <Ruler top={1510} axisY={1544} dir={-1} />
      <Txt x={188} y={1523} size={17} anchor="middle" color={BLUE}>PS</Txt>

      {/* Fourier spectrum */}
      <Txt x={1831} y={92} size={31} anchor="middle">フーリエスペクトル</Txt>
      <Txt x={2015} y={96} size={21}>0.4Hz band smoothing</Txt>
      <Txt x={1374} y={106} size={15}>cm/sec(gal·sec)</Txt>
      <Spectrum plotTop={127} series={[
        { name: 'NS', data: fourierNS, color: RED, w: 2.4 },
        { name: 'EW', data: fourierEW, color: GREEN, w: 2.4 },
        { name: 'UD', data: fourierUD, color: BLUE, w: 2.4 },
      ]} />
      <Txt x={2181} y={754} size={21} anchor="middle">sec</Txt>
      <LegendItem x={1668} lx1={1690} lx2={1752} y={777} label="NS" color={RED} w={2} />
      <LegendItem x={1803} lx1={1829} lx2={1888} y={777} label="EW" color={GREEN} w={2} />
      <LegendItem x={1941} lx1={1967} lx2={2026} y={777} label="UD" color={BLUE} w={2} />

      {/* response spectrum */}
      <Txt x={1829} y={876} size={32} anchor="middle">相対速度応答スペクトル</Txt>
      <Txt x={2182} y={881} size={20}>h=5%</Txt>
      <Txt x={1374} y={892} size={15}>cm/sec</Txt>
      <Spectrum plotTop={913} series={[
        { name: 'NS', data: respNS, color: RED, w: 2.4 },
        { name: 'EW', data: respEW, color: GREEN, w: 2.4 },
        { name: 'UD', data: respUD, color: BLUE, w: 2.4 },
        { name: 'H', data: respH, color: '#000', w: 4 },
      ]} />
      <Txt x={2181} y={1540} size={21} anchor="middle">sec</Txt>
      <LegendItem x={1578} lx1={1601} lx2={1661} y={1563} label="NS" color={RED} w={2} />
      <LegendItem x={1733} lx1={1760} lx2={1819} y={1563} label="EW" color={GREEN} w={2} />
      <LegendItem x={1894} lx1={1919} lx2={1978} y={1563} label="UD" color={BLUE} w={2} />
      <LegendItem x={2034} lx1={2077} lx2={2138} y={1563} label="Horizon" color="#000" w={4} />
    </div>
  );
}
